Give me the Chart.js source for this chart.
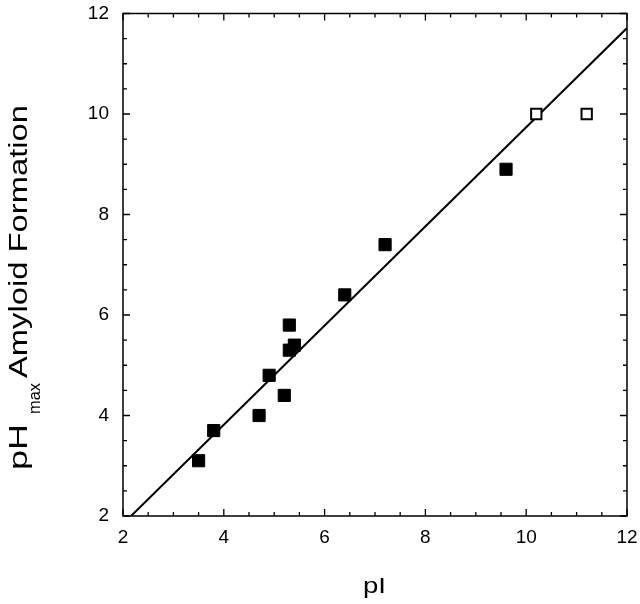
<!DOCTYPE html>
<html>
<head>
<meta charset="utf-8">
<script src="https://cdn.jsdelivr.net/npm/chart.js@4.4.1/dist/chart.umd.min.js"></script>
<style>
  html, body { margin: 0; padding: 0; background: #fff; }
  #wrap { width: 640px; height: 604px; position: relative; }
</style>
</head>
<body>
<div id="wrap"><canvas id="c" width="640" height="604"></canvas></div>
<script>
// ---- data ----
const filledPI = [3.5, 3.8, 4.7, 4.9, 5.2, 5.3, 5.3, 5.4, 6.4, 7.2, 9.6];
const filledPH = [3.1, 3.7, 4.0, 4.8, 4.4, 5.8, 5.3, 5.4, 6.4, 7.4, 8.9];
const openPI = [10.2, 11.2];
const openPH = [10.0, 10.0];
const fitPI = [2.16, 12];
const fitPH = [2.0, 11.71];
const xTicks = [2, 4, 6, 8, 10, 12];
const yTicks = [2, 4, 6, 8, 10, 12];
const xTitle = 'pI';
const yTitleMain = 'pH';
const yTitleSub = 'max';
const yTitleRest = 'Amyloid Formation';

const FONT = '"Liberation Sans", Arial, Helvetica, sans-serif';

const toPts = (xs, ys) => xs.map((x, i) => ({ x: x, y: ys[i] }));

const framePlugin = {
  id: 'frame',
  afterDraw(chart) {
    const ctx = chart.ctx;
    const a = chart.chartArea;
    const xs = chart.scales.x, ys = chart.scales.y;
    ctx.save();
    ctx.strokeStyle = '#000';
    ctx.lineWidth = 1.5;
    ctx.strokeRect(a.left, a.top, a.right - a.left, a.bottom - a.top);
    ctx.lineWidth = 1.3;
    ctx.beginPath();
    for (let v = xs.min; v <= xs.max + 1e-9; v += 0.5) {
      const p = xs.getPixelForValue(v);
      const len = (Math.abs(v / 2 - Math.round(v / 2)) < 1e-6) ? 7 : 4;
      ctx.moveTo(p, a.bottom); ctx.lineTo(p, a.bottom - len);
      ctx.moveTo(p, a.top); ctx.lineTo(p, a.top + len);
    }
    for (let v = ys.min; v <= ys.max + 1e-9; v += 0.5) {
      const p = ys.getPixelForValue(v);
      const len = (Math.abs(v / 2 - Math.round(v / 2)) < 1e-6) ? 7 : 4;
      ctx.moveTo(a.left, p); ctx.lineTo(a.left + len, p);
      ctx.moveTo(a.right, p); ctx.lineTo(a.right - len, p);
    }
    ctx.stroke();

    // x title
    ctx.fillStyle = '#000';
    ctx.font = '22px ' + FONT;
    ctx.textBaseline = 'alphabetic';
    ctx.textAlign = 'left';
    let w = ctx.measureText(xTitle).width;
    let sx = 23 / w;
    ctx.save();
    ctx.translate(363, 593);
    ctx.scale(sx, 1);
    ctx.fillText(xTitle, 0, 0);
    ctx.restore();

    // y title (rotated)
    ctx.save();
    ctx.translate(27, 470);
    ctx.rotate(-Math.PI / 2);
    ctx.font = '26px ' + FONT;
    w = ctx.measureText(yTitleMain).width;
    ctx.save();
    ctx.scale(46 / w, 1);
    ctx.fillText(yTitleMain, 0, 0);
    ctx.restore();
    ctx.font = '17px ' + FONT;
    w = ctx.measureText(yTitleSub).width;
    ctx.save();
    ctx.translate(56, 13);
    ctx.scale(31 / w, 1);
    ctx.fillText(yTitleSub, 0, 0);
    ctx.restore();
    ctx.font = '26px ' + FONT;
    w = ctx.measureText(yTitleRest).width;
    ctx.save();
    ctx.translate(92, 0);
    ctx.scale(273 / w, 1);
    ctx.fillText(yTitleRest, 0, 0);
    ctx.restore();
    ctx.restore();

    ctx.restore();
  }
};

new Chart(document.getElementById('c'), {
  type: 'scatter',
  data: {
    datasets: [
      {
        type: 'line',
        data: toPts(fitPI, fitPH),
        borderColor: '#000',
        borderWidth: 2,
        pointRadius: 0,
        fill: false,
        order: 3
      },
      {
        data: toPts(filledPI, filledPH),
        pointStyle: 'rect',
        pointRadius: 8.6,
        backgroundColor: '#000',
        borderColor: '#000',
        borderWidth: 1,
        order: 1
      },
      {
        data: toPts(openPI, openPH),
        pointStyle: 'rect',
        pointRadius: 7.3,
        backgroundColor: '#fff',
        borderColor: '#000',
        borderWidth: 2,
        order: 2
      }
    ]
  },
  options: {
    responsive: false,
    animation: false,
    events: [],
    layout: { padding: { left: 0, right: 13, top: 13.5, bottom: 0 } },
    plugins: { legend: { display: false }, tooltip: { enabled: false } },
    scales: {
      x: {
        type: 'linear',
        min: 2, max: 12,
        afterFit(s) { s.height = 88; s.paddingLeft = 0; s.paddingRight = 0; },
        afterBuildTicks(s) { s.ticks = xTicks.map(v => ({ value: v })); },
        grid: { display: false, drawTicks: false },
        border: { display: false },
        ticks: { color: '#000', font: { size: 19, family: FONT }, padding: 10, maxRotation: 0, autoSkip: false }
      },
      y: {
        type: 'linear',
        min: 2, max: 12,
        afterFit(s) { s.width = 123; s.paddingTop = 0; s.paddingBottom = 0; },
        afterBuildTicks(s) { s.ticks = yTicks.map(v => ({ value: v })); },
        grid: { display: false, drawTicks: false },
        border: { display: false },
        ticks: { color: '#000', font: { size: 19, family: FONT }, padding: 14, autoSkip: false }
      }
    }
  },
  plugins: [framePlugin]
});
</script>
</body>
</html>
